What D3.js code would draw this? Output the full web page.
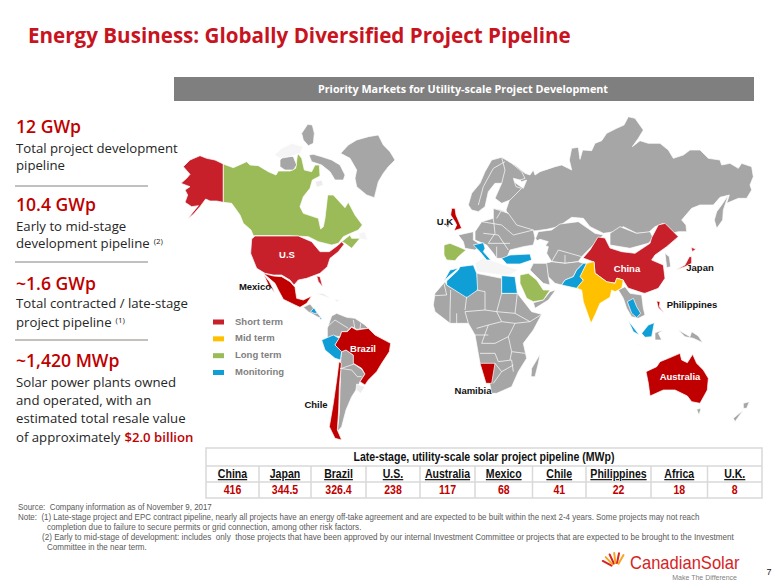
<!DOCTYPE html>
<html lang="en">
  <head>
    <meta charset="UTF-8" />
    <title>Energy Business</title>
    <style>
      html, body { margin: 0; padding: 0; background: #fff; }
      #chart { display: block; width: 781px; height: 585px; }
      .side { font-family: "Open Sans", sans-serif; }
      .map-label { font-family: "Liberation Sans", sans-serif; font-weight: 700; font-size: 9.5px; }
      .tbl { font-family: "Liberation Sans", sans-serif; font-weight: 700; }
      .foot { font-family: "Liberation Sans", sans-serif; font-size: 8.4px; fill: #595959; white-space: pre; }
    </style>
  </head>
  <body>
    <svg id="chart" width="781" height="585" viewBox="0 0 781 585"></svg>

    <script src="https://d3js.org/d3.v7.min.js"></script>
    <script>
      const svg = d3.select("#chart");
      const RED = "#c00000";
      const colors = {
        short: "#c8202a",
        deep: "#c00000",
        mid: "#ffc000",
        long: "#9bbb59",
        watch: "#0f9ed5",
        none: "#a6a6a6",
        pale: "#ececec",
        faint: "#f5f5f5",
        sea: "#ffffff",
      };

      const origins = {
        A: [175, 115], B: [240, 230], C: [430, 150], D: [430, 255],
        E: [515, 220], F: [500, 110], G: [610, 215], H: [600, 320],
      };
      const scales = {};
      Object.keys(origins).forEach((k) => {
        const [ox, oy] = origins[k];
        scales[k] = {
          x: d3.scaleLinear().domain([0, 3]).range([ox, ox + 1]),
          y: d3.scaleLinear().domain([0, 3]).range([oy, oy + 1]),
        };
      });

      const regions = [
        ["D", "faint", [[135,25],[160,8],[210,25],[265,45],[240,60],[215,60],[140,50]]],
        // North America
        ["A", "short", [[145,147],[145,262],[125,258],[105,258],[92,252],[75,275],[55,298],[38,312],[55,290],[70,272],[50,275],[30,262],[38,240],[30,225],[45,215],[18,205],[35,190],[45,178],[25,155],[45,135],[75,122],[95,130],[120,135]]],
        ["A", "long", [[145,147],[175,158],[215,140],[225,150],[250,152],[280,170],[303,180],[310,168],[345,168],[362,160],[368,115],[380,130],[388,165],[410,170],[420,150],[433,150],[435,183],[412,195],[405,220],[385,245],[375,275],[385,295],[430,310],[437,342],[445,335],[450,310],[458,240],[475,240],[495,262],[510,278],[520,262],[540,300],[562,330],[550,345],[520,358],[505,365],[490,385],[470,390],[430,380],[420,375],[400,365],[340,362],[235,362],[228,345],[205,325],[195,300],[170,265],[145,262]]],
        ["A", "none", [[380,55],[398,28],[412,30],[418,55],[415,85],[400,92],[385,75]]],
        ["A", "none", [[315,135],[330,120],[355,125],[365,150],[355,165],[330,165],[315,155]]],
        ["A", "none", [[402,120],[415,118],[440,125],[470,135],[495,150],[510,180],[505,195],[480,195],[465,170],[440,150],[410,140]]],
        ["A", "none", [[497,115],[520,90],[545,75],[580,65],[610,60],[625,90],[645,110],[660,135],[640,155],[625,175],[610,200],[598,248],[575,240],[545,215],[540,190],[545,165],[525,130]]],
        ["A", "faint", [[298,120],[320,100],[350,85],[385,95],[375,115],[345,125],[315,130]]],
        ["A", "pale", [[420,200],[440,195],[445,210],[425,217]]],
        ["A", "faint", [[550,355],[570,350],[578,375],[555,372]]],
        ["B", "short", [[35,27],[45,18],[175,18],[215,35],[240,65],[268,65],[295,45],[305,35],[312,43],[295,65],[270,85],[262,110],[240,130],[200,145],[175,150],[162,165],[150,150],[125,135],[100,135],[75,130],[50,115],[32,70]]],
        ["B", "short", [[230,138],[240,140],[248,170],[235,155]]],
        ["B", "long", [[305,35],[330,15],[335,25],[360,25],[335,55],[315,40]]],
        ["B", "deep", [[70,130],[100,138],[125,140],[150,155],[165,172],[170,205],[190,210],[215,198],[200,220],[180,232],[165,225],[130,208],[115,180],[105,160]]],
        ["B", "deep", [[72,135],[88,155],[105,188],[85,165]]],
        // Central and South America
        ["B", "none", [[190,232],[210,222],[225,240],[245,265],[235,262],[205,245]]],
        ["B", "watch", [[212,245],[222,233],[232,250],[222,250]]],
        ["B", "watch", [[238,262],[246,265],[242,270]]],
        ["B", "pale", [[225,190],[250,190],[275,208],[250,198]]],
        ["B", "pale", [[282,208],[300,210],[290,215]]],
        ["B", "none", [[262,295],[275,258],[290,250],[320,262],[345,265],[375,285],[385,295],[350,298],[335,290],[320,305],[305,305],[300,320],[285,318],[262,325]]],
        ["B", "watch", [[245,330],[280,315],[298,325],[285,345],[305,365],[302,390],[285,385],[255,360]]],
        ["B", "none", [[302,392],[305,365],[318,360],[340,375],[342,402],[365,418],[375,432],[360,455],[348,480],[335,500],[318,540],[305,590],[292,605],[298,550],[300,480],[302,430]]],
        ["B", "deep", [[285,345],[300,320],[305,305],[322,305],[335,292],[350,300],[385,295],[405,315],[452,340],[448,365],[425,400],[410,425],[385,450],[375,465],[360,455],[375,432],[365,415],[340,400],[340,375],[318,360],[305,365]]],
        ["B", "deep", [[297,395],[304,400],[298,470],[296,540],[292,600],[305,630],[285,625],[268,590],[280,520],[290,450]]],
        ["B", "pale", [[350,462],[375,470],[362,490],[348,480]]],
        // Russia and the rest of the north
        ["F", "none", [[28,160],[45,165],[75,190],[90,195],[100,180],[105,195],[120,185],[165,170],[185,165],[205,175],[215,180],[208,150],[215,115],[235,112],[240,148],[248,120],[275,122],[285,100],[305,92],[320,70],[350,55],[372,45],[385,20],[405,25],[430,60],[415,85],[397,110],[420,92],[445,100],[480,100],[505,120],[520,145],[550,135],[570,120],[600,120],[625,145],[660,150],[665,165],[690,160],[715,175],[725,160],[755,170],[760,200],[750,225],[755,240],[740,265],[715,265],[680,280],[688,255],[660,262],[640,285],[600,285],[575,295],[545,330],[558,345],[560,365],[535,365],[515,370],[490,340],[465,350],[445,368],[410,370],[370,350],[345,365],[310,370],[270,350],[250,325],[215,322],[175,350],[140,358],[110,362],[75,365],[40,345],[30,330],[18,300],[35,250],[25,195]]],
        ["F", "sea", [[40,198],[55,205],[65,215],[80,210],[70,235],[55,225],[42,215]]],
        ["F", "none", [[650,305],[665,285],[685,255],[670,300],[668,330],[650,355],[643,330]]],
        // Europe
        ["C", "none", [[115,165],[125,130],[150,100],[165,65],[185,30],[215,22],[245,40],[275,65],[285,85],[270,90],[250,85],[258,110],[275,115],[240,150],[215,160],[195,145],[215,100],[195,100],[175,125],[165,170],[145,185],[125,180]]],
        ["C", "none", [[135,245],[155,215],[190,205],[190,175],[215,180],[235,190],[260,225],[310,240],[315,265],[310,285],[280,290],[240,300],[230,325],[200,325],[190,310],[170,285],[135,270]]],
        ["C", "none", [[85,255],[130,245],[130,270],[155,285],[135,300],[105,295],[100,275]]],
        ["C", "long", [[42,285],[60,280],[85,290],[108,300],[85,320],[75,332],[50,330],[42,315]]],
        ["C", "watch", [[130,285],[160,278],[165,295],[160,305],[182,330],[170,330],[150,305]]],
        ["C", "none", [[45,225],[62,212],[55,235]]],
        ["C", "deep", [[65,175],[75,175],[78,195],[95,235],[72,242],[80,225],[75,215],[62,195]]],
        ["C", "watch", [[215,325],[240,315],[300,312],[305,330],[270,342],[230,342]]],
        // Middle East and Asia
        ["E", "none", [[62,55],[70,35],[110,30],[135,12],[190,5],[240,40],[265,45],[225,85],[200,110],[190,125],[150,130],[110,125],[95,100],[100,80],[70,70]]],
        ["E", "sea", [[60,65],[75,58],[100,65],[85,85],[80,105],[95,125],[75,125],[70,100]]],
        ["E", "none", [[90,130],[110,125],[150,130],[190,125],[205,130],[185,150],[175,170],[150,180],[140,195],[120,190],[100,170]]],
        ["E", "none", [[55,130],[95,130],[100,170],[105,195],[85,190],[60,165],[45,150]]],
        ["E", "none", [[55,248],[85,240],[105,215],[122,210],[100,240],[60,265]]],
        ["E", "long", [[15,165],[40,160],[65,180],[85,210],[105,210],[85,240],[55,245],[35,235],[15,190]]],
        ["G", "none", [[0,55],[30,35],[80,55],[120,50],[130,70],[115,85],[60,100],[0,90]]],
        ["G", "short", [[-81,129],[-60,105],[-36,66],[-15,69],[0,99],[35,110],[75,115],[120,85],[125,68],[145,30],[165,25],[205,65],[170,95],[135,120],[125,135],[160,150],[165,190],[145,220],[105,235],[99,234],[54,219],[39,195],[21,189],[15,204],[-9,201],[-45,174],[-48,141]]],
        ["E", "watch", [[205,130],[215,130],[197,170],[205,182],[185,205],[140,195],[150,180],[175,170],[185,150]]],
        ["E", "mid", [[237,125],[240,160],[275,185],[300,190],[305,175],[325,180],[320,205],[300,215],[290,210],[285,232],[255,250],[240,285],[228,310],[205,245],[200,210],[185,205],[205,180],[195,170],[215,130]]],
        ["G", "none", [[25,225],[45,215],[60,235],[95,240],[100,280],[105,300],[85,310],[65,305],[50,280],[40,250]]],
        ["G", "watch", [[52,260],[70,250],[80,275],[92,295],[80,308],[65,295]]],
        ["G", "none", [[165,115],[178,125],[182,155],[170,158]]],
        ["G", "short", [[243,97],[258,102],[247,110]]],
        ["G", "short", [[197,165],[225,150],[238,125],[245,125],[245,145],[225,155]]],
        ["G", "deep", [[140,258],[150,260],[148,275],[163,295],[145,278]]],
        // Africa
        ["D", "none", [[10,150],[15,115],[45,80],[50,90],[110,125],[140,105],[140,55],[215,70],[215,115],[262,115],[270,125],[305,170],[335,178],[310,225],[280,265],[290,310],[265,350],[245,395],[200,415],[185,415],[178,380],[150,325],[135,240],[115,205],[60,205],[15,170]]],
        ["D", "watch", [[50,78],[85,45],[90,35],[130,30],[140,55],[143,105],[110,128],[50,90]]],
        ["D", "watch", [[42,78],[60,45],[85,40],[58,62]]],
        ["D", "watch", [[215,62],[255,65],[262,115],[215,115]]],
        ["D", "deep", [[150,325],[195,325],[185,385],[168,385]]],
        ["D", "none", [[305,340],[330,298],[325,325],[315,365],[303,365]]],
        // Islands and Oceania
        ["H", "watch", [[85,2],[118,45],[100,35]]],
        ["H", "watch", [[125,40],[145,15],[163,8],[155,50],[135,52]]],
        ["H", "none", [[165,38],[190,30],[175,40],[185,60],[165,60]]],
        ["H", "none", [[235,30],[270,50],[275,35],[295,48],[308,68],[280,55],[255,50]]],
        ["H", "pale", [[100,70],[145,80],[115,75]]],
        ["H", "deep", [[138,155],[170,140],[180,125],[205,115],[240,100],[245,120],[262,128],[278,103],[290,130],[310,150],[325,175],[322,210],[300,250],[275,245],[262,228],[225,210],[190,210],[150,228],[145,190]]],
        ["H", "none", [[290,268],[303,265],[297,285]]],
        ["H", "none", [[430,250],[448,245],[440,265],[430,265]]],
        ["H", "none", [[430,270],[405,305],[400,295]]],
      ];

      // inner country borders over the grey land
      const borders = [
        ["D", [[42,85],[50,120],[15,122]]], ["D", [[62,105],[60,170]]], ["D", [[110,125],[105,165]]],
        ["D", [[140,105],[165,110],[165,165],[105,170]]], ["D", [[215,115],[200,170],[165,165]]], ["D", [[262,115],[255,175],[200,170]]],
        ["D", [[255,175],[300,200],[335,178]]], ["D", [[200,170],[215,200],[175,210],[140,220]]], ["D", [[215,200],[255,205],[300,200]]],
        ["D", [[175,210],[155,265],[195,265],[235,245]]], ["D", [[255,205],[235,245],[245,290],[285,295]]],
        ["D", [[150,295],[195,295],[205,320],[245,315],[250,350]]], ["D", [[195,325],[215,350],[250,330]]], ["D", [[215,350],[190,385]]],
        ["D", [[245,290],[240,315]]], ["D", [[60,170],[60,205]]], ["D", [[80,175],[80,205]]], ["D", [[105,170],[115,205]]], ["D", [[135,240],[175,240]]],
        ["C", [[190,205],[195,250],[175,280]]], ["C", [[155,215],[215,225],[250,255],[310,240]]], ["C", [[160,250],[205,255],[235,300]]],
        ["C", [[190,175],[235,190]]], ["C", [[215,180],[200,205]]], ["C", [[175,280],[240,280]]], ["C", [[200,290],[200,325]]],
        ["C", [[215,100],[225,60],[215,22]]], ["C", [[145,165],[160,110],[190,55],[225,35]]],
        ["E", [[110,125],[130,90],[200,110]]], ["E", [[150,130],[150,105]]],
        ["B", [[305,415],[342,402]]], ["B", [[300,415],[335,420],[352,440],[365,440]]], ["B", [[262,290],[285,270],[325,295]]],
        ["B", [[340,270],[345,298]]], ["B", [[362,280],[360,297]]],
      ];

      const line = (s) =>
        d3.line().x((d) => s.x(d[0])).y((d) => s.y(d[1]));

      // title + header bar
      svg.append("text").attr("x", 28).attr("y", 43)
        .attr("font-family", "Open Sans").attr("font-weight", 700).attr("font-size", 20.6)
        .attr("fill", "#c8141e").text("Energy Business: Globally Diversified Project Pipeline");
      svg.append("rect").attr("x", 174).attr("y", 77).attr("width", 580).attr("height", 24).attr("fill", "#7f7f7f");
      svg.append("text").attr("x", 463).attr("y", 93).attr("text-anchor", "middle")
        .attr("font-family", "Open Sans").attr("font-weight", 700).attr("font-size", 10.8)
        .attr("fill", "#fff").text("Priority Markets for Utility-scale Project Development");

      // left column
      const side = [
        { big: "12 GWp", by: 133, lines: [["Total project development", 153], ["pipeline", 170]], rule: 186 },
        { big: "10.4 GWp", by: 211, lines: [["Early to mid-stage", 231], ["development pipeline", 248, "(2)"]], rule: 262 },
        { big: "~1.6 GWp", by: 290, lines: [["Total contracted / late-stage", 308], ["project pipeline", 327, "(1)"]], rule: 340 },
        { big: "~1,420 MWp", by: 367, lines: [["Solar power plants owned", 387], ["and operated, with an", 405], ["estimated total resale value", 423], ["of approximately", 442, null, "$2.0 billion"]] },
      ];
      const sideG = svg.append("g").attr("class", "side");
      side.forEach((b) => {
        sideG.append("text").attr("x", 16).attr("y", b.by).attr("font-size", 17.6).attr("font-weight", 600).attr("fill", RED).text(b.big);
        b.lines.forEach(([txt, y, sup, red]) => {
          const t = sideG.append("text").attr("x", 16).attr("y", y).attr("font-size", 13.2).attr("fill", "#262626").text(txt);
          if (sup) t.append("tspan").attr("dx", 4).attr("dy", -4).attr("font-size", 8).text(sup);
          if (red) t.append("tspan").attr("dx", 4).attr("font-weight", 600).attr("fill", RED).text(red);
        });
        if (b.rule) sideG.append("line").attr("x1", 15).attr("x2", 148).attr("y1", b.rule).attr("y2", b.rule).attr("stroke", "#6b5f5a").attr("stroke-width", 0.8);
      });

      // map
      const mapG = svg.append("g");
      mapG.selectAll("path.land").data(regions).enter().append("path")
        .attr("class", "land")
        .attr("d", (d) => line(scales[d[0]])(d[2]) + "Z")
        .attr("fill", (d) => colors[d[1]])
        .attr("stroke", "#fff").attr("stroke-width", 0.7).attr("stroke-linejoin", "round");
      mapG.selectAll("path.border").data(borders).enter().append("path")
        .attr("class", "border")
        .attr("d", (d) => line(scales[d[0]])(d[1]))
        .attr("fill", "none").attr("stroke", "#fff").attr("stroke-width", 0.7);

      const labels = [
        ["U.S", 287, 258, "#fff"], ["Mexico", 255, 290, "#111"], ["Brazil", 363, 352, "#fff"], ["Chile", 316, 408, "#111"],
        ["U.K", 445, 225, "#111"], ["China", 627, 272, "#fff"], ["Japan", 700, 271, "#111"], ["Philippines", 692, 308, "#111"],
        ["Namibia", 473, 394, "#111"], ["Australia", 680, 380, "#fff"],
      ];
      svg.selectAll("text.map-label").data(labels).enter().append("text")
        .attr("class", "map-label").attr("text-anchor", "middle")
        .attr("x", (d) => d[1]).attr("y", (d) => d[2]).attr("fill", (d) => d[3]).text((d) => d[0]);

      // legend
      const legend = [["Short term", colors.short], ["Mid term", colors.mid], ["Long term", colors.long], ["Monitoring", colors.watch]];
      const legendY = d3.scalePoint().domain(legend.map((d) => d[0])).range([319.5, 370]);
      legend.forEach(([name, c]) => {
        svg.append("rect").attr("x", 213).attr("y", legendY(name)).attr("width", 11).attr("height", 5).attr("fill", c);
        svg.append("text").attr("class", "map-label").attr("x", 235).attr("y", legendY(name) + 5)
          .attr("font-size", 9.5).attr("fill", "#7f7f7f").text(name);
      });

      // pipeline table
      const pipeline = [
        { country: "China", mw: "416" }, { country: "Japan", mw: "344.5" }, { country: "Brazil", mw: "326.4" },
        { country: "U.S.", mw: "238" }, { country: "Australia", mw: "117" }, { country: "Mexico", mw: "68" },
        { country: "Chile", mw: "41" }, { country: "Philippines", mw: "22" }, { country: "Africa", mw: "18" }, { country: "U.K.", mw: "8" },
      ];
      const edges = [206, 259, 311, 366, 420, 475, 532.5, 586, 651, 707.5, 762];
      const rows = [448, 466, 482, 498];
      const tbl = svg.append("g").attr("class", "tbl");
      const GRID = "#d9d9d9";
      const narrow = (x, y) => `translate(${x},${y}) scale(0.88,1)`;
      tbl.append("rect").attr("x", 206).attr("y", 448).attr("width", 556).attr("height", 50).attr("fill", "#fff").attr("stroke", GRID).attr("stroke-width", 1.5);
      rows.slice(1, 3).forEach((y) => tbl.append("line").attr("x1", 206).attr("x2", 762).attr("y1", y).attr("y2", y).attr("stroke", GRID).attr("stroke-width", 1.5));
      edges.slice(1, -1).forEach((x) => tbl.append("line").attr("x1", x).attr("x2", x).attr("y1", 466).attr("y2", 498).attr("stroke", GRID).attr("stroke-width", 1.5));
      tbl.append("text").attr("transform", narrow(484, 461)).attr("text-anchor", "middle").attr("font-size", 12).attr("fill", "#111")
        .text("Late-stage, utility-scale solar project pipeline (MWp)");
      pipeline.forEach((d, i) => {
        const cx = (edges[i] + edges[i + 1]) / 2;
        tbl.append("text").attr("transform", narrow(cx, 478)).attr("text-anchor", "middle").attr("font-size", 12).attr("fill", "#111")
          .attr("text-decoration", "underline").text(d.country);
        tbl.append("text").attr("transform", narrow(cx, 494)).attr("text-anchor", "middle").attr("font-size", 12).attr("fill", RED).text(d.mw);
      });

      // footnotes, last number is a per line width fit
      const foot = [
        ["Source:  Company information as of November 9, 2017", 18, 510, 0.945],
        ["Note:  (1) Late-stage project and EPC contract pipeline, nearly all projects have an energy off-take agreement and are expected to be built within the next 2-4 years. Some projects may not reach", 18, 520, 0.947],
        ["completion due to failure to secure permits or grid connection, among other risk factors.", 47, 530, 0.97],
        ["(2) Early to mid-stage of development: includes  only  those projects that have been approved by our internal Investment Committee or projects that are expected to be brought to the Investment", 42, 540, 0.965],
        ["Committee in the near term.", 47, 550, 0.96],
      ];
      svg.selectAll("text.foot").data(foot).enter().append("text").attr("class", "foot")
        .attr("transform", (d) => `translate(${d[1]},${d[2]}) scale(${d[3]},1)`).text((d) => d[0]);

      // logo and page number
      const logo = svg.append("g");
      const rayAngle = d3.scaleLinear().domain([0, 5]).range([-62, 30]);
      d3.range(6).forEach((i) => {
        const a = (rayAngle(i) - 90) * Math.PI / 180;
        logo.append("line")
          .attr("x1", 616 + 5 * Math.cos(a)).attr("y1", 568 + 5 * Math.sin(a))
          .attr("x2", 616 + 15 * Math.cos(a)).attr("y2", 568 + 15 * Math.sin(a))
          .attr("stroke", i % 2 ? "#f5a623" : "#d8231f").attr("stroke-width", 2).attr("stroke-linecap", "round");
      });
      logo.append("text").attr("transform", "translate(630,569) scale(0.92,1)").attr("font-family", "Liberation Sans").attr("font-size", 18).attr("fill", "#d8231f").text("CanadianSolar");
      logo.append("text").attr("x", 737).attr("y", 580).attr("text-anchor", "end").attr("font-family", "Liberation Sans").attr("font-size", 7).attr("fill", "#7f7f7f").text("Make The Difference");
      svg.append("text").attr("x", 769).attr("y", 575).attr("text-anchor", "middle").attr("font-family", "Liberation Sans").attr("font-size", 9).attr("fill", "#111").text("7");
    </script>
  </body>
</html>
